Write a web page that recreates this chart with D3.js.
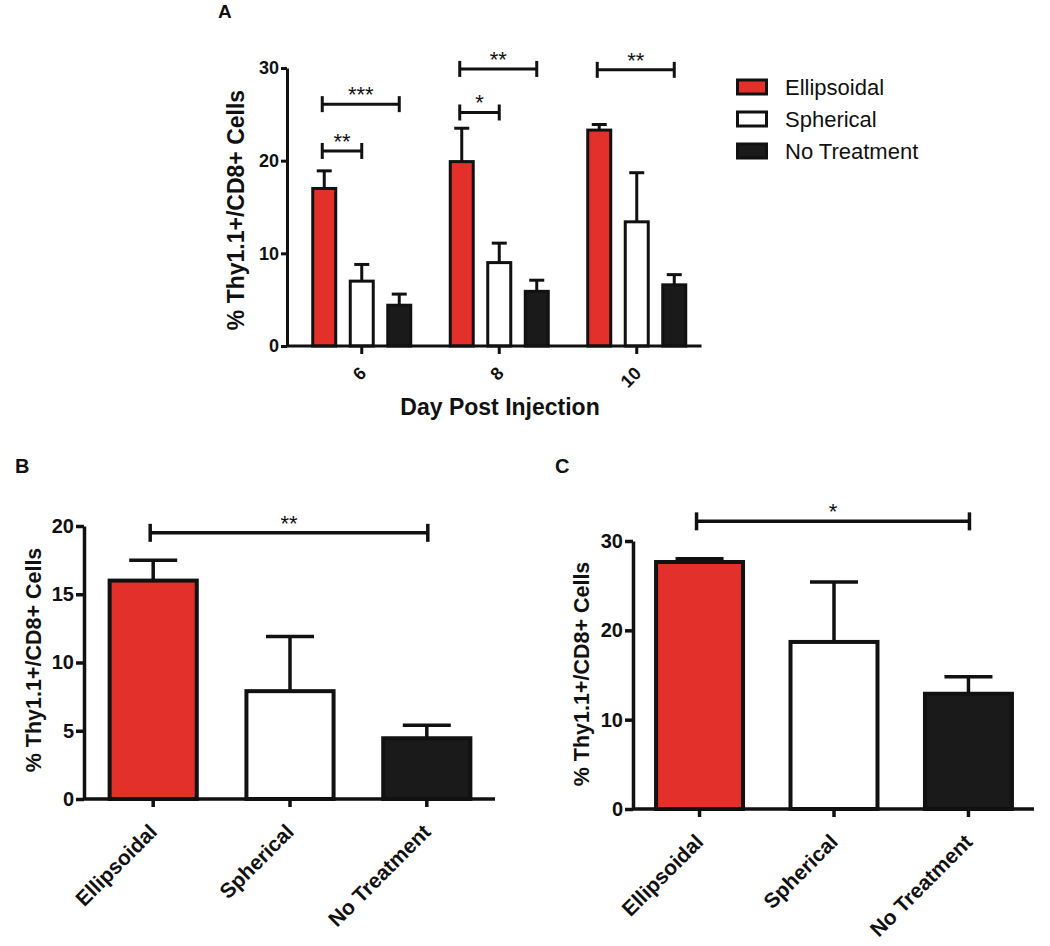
<!DOCTYPE html>
<html><head><meta charset="utf-8">
<script src="https://cdn.jsdelivr.net/npm/d3@7"></script>
<style>
body{margin:0;background:#fff;}
svg{display:block;font-family:"Liberation Sans",Arial,sans-serif;}
</style></head>
<body>
<svg id="c" width="1050" height="946"></svg>
<script>
// ---------- DATA ----------
const days = ["6", "8", "10"];
const series = ["Ellipsoidal", "Spherical", "No Treatment"];
const colors = ["#e3302b", "#ffffff", "#1a1a1a"];

// Panel A: mean and upper error per series, per day
const aEllipsoidal = [17.0, 19.9, 23.3];
const aEllipsoidalErr = [1.9, 3.6, 0.6];
const aSpherical = [7.0, 9.0, 13.4];
const aSphericalErr = [1.8, 2.1, 5.3];
const aNoTreatment = [4.4, 5.9, 6.6];
const aNoTreatmentErr = [1.2, 1.2, 1.1];
const aTicks = [0, 10, 20, 30];
const aBrackets = [
  {day: "6", from: 0, to: 1, y: 21.05, label: "**"},
  {day: "6", from: 0, to: 2, y: 26.1, label: "***"},
  {day: "8", from: 0, to: 1, y: 25.2, label: "*"},
  {day: "8", from: 0, to: 2, y: 29.9, label: "**"},
  {day: "10", from: 0, to: 2, y: 29.8, label: "**"}
];

// Panel B
const bValues = [16.0, 7.9, 4.45];
const bErr = [1.5, 4.0, 0.95];
const bTicks = [0, 5, 10, 15, 20];
const bBracket = {from: 0, to: 2, y: 19.5, label: "**"};

// Panel C
const cValues = [27.65, 18.7, 12.9];
const cErr = [0.35, 6.7, 1.9];
const cTicks = [0, 10, 20, 30];
const cBracket = {from: 0, to: 2, y: 32.2, label: "*"};

const yLabel = "% Thy1.1+/CD8+ Cells";
const ink = "#111";

const svg = d3.select("#c");

function styleAxis(g, sw, fs) {
  g.selectAll("path.domain").attr("stroke", ink).attr("stroke-width", sw);
  g.selectAll(".tick line").attr("stroke", ink).attr("stroke-width", sw);
  g.selectAll(".tick text").attr("fill", ink).attr("font-size", fs).attr("font-weight", "bold")
    .attr("font-family", "'Liberation Sans', Arial, sans-serif");
}

function bracket(g, x1, x2, yy, label, sw, half) {
  g.append("line").attr("x1", x1).attr("x2", x2).attr("y1", yy).attr("y2", yy)
    .attr("stroke", ink).attr("stroke-width", sw);
  [x1, x2].forEach(xx => g.append("line").attr("x1", xx).attr("x2", xx)
    .attr("y1", yy - half).attr("y2", yy + half).attr("stroke", ink).attr("stroke-width", sw));
  g.append("text").attr("x", (x1 + x2) / 2).attr("y", yy - 2).attr("text-anchor", "middle")
    .attr("font-size", 22).attr("fill", ink).text(label);
}

// ---------- PANEL A ----------
(function () {
  const g = svg.append("g");
  const yAxisX = 287;
  const y = d3.scaleLinear().domain([0, 30]).range([346, 68]);
  const x0 = d3.scaleBand().domain(days).range([293, 705.5]).padding(0);
  const x1 = d3.scaleBand().domain(series).range([-49, 49]).paddingInner(0.387).paddingOuter(0);
  const means = [aEllipsoidal, aSpherical, aNoTreatment];
  const errs = [aEllipsoidalErr, aSphericalErr, aNoTreatmentErr];
  const data = [];
  days.forEach((d, i) => series.forEach((s, j) => data.push({day: d, s, j, v: means[j][i], e: errs[j][i]})));
  const cx = d => x0(d.day) + x0.bandwidth() / 2 + x1(d.s) + x1.bandwidth() / 2;

  // error bars
  data.forEach(d => {
    g.append("line").attr("x1", cx(d)).attr("x2", cx(d)).attr("y1", y(d.v)).attr("y2", y(d.v + d.e))
      .attr("stroke", ink).attr("stroke-width", 3);
    g.append("line").attr("x1", cx(d) - 7.5).attr("x2", cx(d) + 7.5).attr("y1", y(d.v + d.e)).attr("y2", y(d.v + d.e))
      .attr("stroke", ink).attr("stroke-width", 3);
  });
  g.selectAll("rect.bar").data(data).join("rect")
    .attr("x", d => x0(d.day) + x0.bandwidth() / 2 + x1(d.s))
    .attr("width", x1.bandwidth())
    .attr("y", d => y(d.v)).attr("height", d => y(0) - y(d.v))
    .attr("fill", d => colors[d.j]).attr("stroke", ink).attr("stroke-width", 3);

  // y axis
  const ya = g.append("g").attr("transform", `translate(${yAxisX},0)`)
    .call(d3.axisLeft(y).tickValues(aTicks).tickSize(6).tickSizeOuter(0).tickPadding(2));
  styleAxis(ya, 3, 18);
  // x axis
  const xa = g.append("g").attr("transform", `translate(0,${y(0)})`)
    .call(d3.axisBottom(x0).tickSize(8).tickSizeOuter(0));
  xa.select("path.domain").remove();
  xa.append("line").attr("x1", yAxisX).attr("x2", x0.range()[1] - 4).attr("y1", 0).attr("y2", 0)
    .attr("stroke", ink).attr("stroke-width", 3);
  styleAxis(xa, 3, 18);
  xa.selectAll(".tick text").attr("x", 0).attr("y", 0).attr("dy", "0.35em")
    .attr("text-anchor", "end").attr("transform", "translate(1,24) rotate(-45)");

  // brackets
  aBrackets.forEach(b => {
    const bx = k => x0(b.day) + x0.bandwidth() / 2 + x1(series[k]) + x1.bandwidth() / 2;
    bracket(g, bx(b.from) - 2, bx(b.to), y(b.y), b.label, 3, 8);
  });

  // labels
  g.append("text").attr("transform", `translate(244,210) rotate(-90)`).attr("text-anchor", "middle")
    .attr("font-size", 23).attr("font-weight", "bold").attr("fill", ink).text(yLabel);
  g.append("text").attr("x", 500).attr("y", 415).attr("text-anchor", "middle")
    .attr("font-size", 23).attr("font-weight", "bold").attr("fill", ink).text("Day Post Injection");
  g.append("text").attr("x", 218).attr("y", 18).attr("font-size", 19).attr("font-weight", "bold")
    .attr("fill", ink).text("A");

  // legend
  const lg = g.append("g");
  series.forEach((s, j) => {
    const cy = 87 + j * 32;
    lg.append("rect").attr("x", 737.5).attr("y", cy - 7).attr("width", 29).attr("height", 14)
      .attr("fill", colors[j]).attr("stroke", ink).attr("stroke-width", 3);
    lg.append("text").attr("x", 785).attr("y", cy).attr("dy", "0.36em").attr("font-size", 22)
      .attr("fill", ink).text(s);
  });
})();

// ---------- PANELS B & C ----------
function simplePanel(opt) {
  const g = svg.append("g");
  const y = d3.scaleLinear().domain([0, opt.max]).range([opt.y0, opt.yTop]);
  const x = d3.scaleBand().domain(series).range(opt.xr).paddingInner(opt.pi).paddingOuter(opt.po);
  const cx = s => x(s) + x.bandwidth() / 2;
  const data = series.map((s, j) => ({s, j, v: opt.values[j], e: opt.errs[j]}));
  data.forEach(d => {
    g.append("line").attr("x1", cx(d.s)).attr("x2", cx(d.s)).attr("y1", y(d.v)).attr("y2", y(d.v + d.e))
      .attr("stroke", ink).attr("stroke-width", 3.5);
    g.append("line").attr("x1", cx(d.s) - 24).attr("x2", cx(d.s) + 24).attr("y1", y(d.v + d.e)).attr("y2", y(d.v + d.e))
      .attr("stroke", ink).attr("stroke-width", 3.5);
  });
  g.selectAll("rect.bar").data(data).join("rect")
    .attr("x", d => x(d.s)).attr("width", x.bandwidth())
    .attr("y", d => y(d.v)).attr("height", d => y(0) - y(d.v))
    .attr("fill", d => colors[d.j]).attr("stroke", ink).attr("stroke-width", 4);

  const ya = g.append("g").attr("transform", `translate(${opt.yAxisX},0)`)
    .call(d3.axisLeft(y).tickValues(opt.ticks).tickSize(8).tickSizeOuter(0).tickPadding(2));
  styleAxis(ya, 3.5, 20);
  const xa = g.append("g").attr("transform", `translate(0,${y(0)})`)
    .call(d3.axisBottom(x).tickSize(8).tickSizeOuter(0));
  xa.select("path.domain").remove();
  xa.append("line").attr("x1", opt.yAxisX).attr("x2", x.range()[1]).attr("y1", 0).attr("y2", 0)
    .attr("stroke", ink).attr("stroke-width", 3.5);
  styleAxis(xa, 3.5, 21);
  xa.selectAll(".tick text").attr("x", 0).attr("y", 0).attr("dy", "0.35em")
    .attr("text-anchor", "end").attr("transform", "translate(0,29) rotate(-45)");

  const b = opt.bracket;
  bracket(g, cx(series[b.from]) - 3, cx(series[b.to]) + 1, y(b.y), b.label, 3.5, 9);

  g.append("text").attr("transform", `translate(${opt.ylx},${opt.yly}) rotate(-90)`).attr("text-anchor", "middle")
    .attr("font-size", 21.5).attr("font-weight", "bold").attr("fill", ink).text(yLabel);
  g.append("text").attr("x", opt.lx).attr("y", opt.ly).attr("font-size", 20).attr("font-weight", "bold")
    .attr("fill", ink).text(opt.letter);
}

simplePanel({
  letter: "B", lx: 15, ly: 473,
  max: 20, y0: 799, yTop: 526, yAxisX: 84, xr: [85, 495], pi: 0.363, po: 0.18,
  values: bValues, errs: bErr, ticks: bTicks, bracket: bBracket, ylx: 41, yly: 660
});
simplePanel({
  letter: "C", lx: 555, ly: 473,
  max: 30, y0: 809, yTop: 541, yAxisX: 633, xr: [634, 1034], pi: 0.353, po: 0.164,
  values: cValues, errs: cErr, ticks: cTicks, bracket: cBracket, ylx: 589, yly: 674
});
</script>
</body></html>
